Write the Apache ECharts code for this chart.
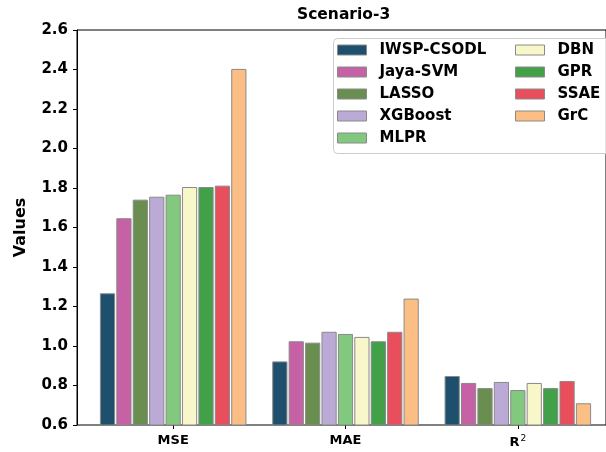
<!DOCTYPE html>
<html>
<head>
<meta charset="utf-8">
<script src="https://cdn.jsdelivr.net/npm/echarts@6/dist/echarts.min.js"></script>
<style>
  html, body { margin: 0; padding: 0; background: #fff; }
  #chart { width: 606px; height: 452px; }
</style>
</head>
<body>
<div id="chart"></div>
<script>
// Error metrics per method for Scenario-3
const categories = ['MSE', 'MAE', 'R²'];
const methods = ['IWSP-CSODL', 'Jaya-SVM', 'LASSO', 'XGBoost', 'MLPR', 'DBN', 'GPR', 'SSAE', 'GrC'];
const iwspCsodl = [1.267, 0.922, 0.848];
const jayaSvm   = [1.647, 1.024, 0.813];
const lasso     = [1.741, 1.017, 0.787];
const xgboost   = [1.756, 1.072, 0.818];
const mlpr      = [1.766, 1.061, 0.777];
const dbn       = [1.805, 1.046, 0.813];
const gpr       = [1.805, 1.024, 0.787];
const ssae      = [1.812, 1.072, 0.823];
const grc       = [2.403, 1.240, 0.710];
const yTicks = { min: 0.6, max: 2.6, step: 0.2 };

const seriesValues = [iwspCsodl, jayaSvm, lasso, xgboost, mlpr, dbn, gpr, ssae, grc];
const colors = ['#1e4f6c', '#c761a6', '#6a8e50', '#bcaad6', '#82c97f', '#f8f7ca', '#41a048', '#e84e5b', '#fbbe84'];

const FONT = 'DejaVu Sans';
const chart = echarts.init(document.getElementById('chart'), null, { renderer: 'canvas' });

const series = methods.map((name, i) => ({
  name: name,
  type: 'bar',
  xAxisIndex: 1,
  yAxisIndex: 1,
  data: seriesValues[i],
  barWidth: 15.2,
  barGap: '8%',
  itemStyle: { color: colors[i], borderColor: '#8a8a8a', borderWidth: 1 },
  emphasis: { disabled: true },
  animation: false
}));

const legendCommon = {
  orient: 'vertical',
  itemWidth: 29,
  itemHeight: 10,
  itemGap: 7,
  padding: 0,
  icon: 'rect',
  itemStyle: { borderColor: '#8a8a8a', borderWidth: 1 },
  textStyle: { fontFamily: FONT, fontWeight: 'bold', fontSize: 15, color: '#000', padding: [0, 0, 0, 8] },
  selectedMode: false
};

chart.setOption({
  animation: false,
  title: {
    text: 'Scenario-3',
    left: 297,
    top: 7,
    padding: 0,
    textStyle: { fontFamily: FONT, fontWeight: 'bold', fontSize: 15.5, color: '#000' }
  },
  graphic: [{
    type: 'rect',
    shape: { x: 333.5, y: 38.5, width: 290, height: 115, r: 4 },
    style: { fill: 'rgba(255,255,255,0.8)', stroke: '#cccccc', lineWidth: 1 },
    z: 50
  }],
  legend: [
    Object.assign({}, legendCommon, { data: methods.slice(0, 5), left: 337, top: 42.5, z: 60 }),
    Object.assign({}, legendCommon, { data: methods.slice(5), left: 515, top: 42.5, z: 60 })
  ],
  grid: [
    { left: 77, right: -10, top: 30, bottom: 27, show: true, borderColor: '#000', borderWidth: 1, backgroundColor: 'transparent' },
    { left: 87, right: 2, top: 30, bottom: 27 }
  ],
  xAxis: [
    { type: 'value', gridIndex: 0, min: 0, max: 1, show: false },
    {
      type: 'category',
      gridIndex: 1,
      data: categories,
      axisLine: { show: false },
      axisTick: { show: true, alignWithLabel: true, length: 4, lineStyle: { color: '#000' } },
      axisLabel: {
        margin: 9,
        fontFamily: FONT,
        fontWeight: 'bold',
        fontSize: 13,
        color: '#000',
        formatter: v => v === 'R²' ? '{b|R}{s|2}' : v,
        rich: {
          b: { fontFamily: FONT, fontWeight: 'bold', fontSize: 13, color: '#000' },
          s: { fontFamily: FONT, fontWeight: 'normal', fontSize: 9, color: '#000', padding: [0, 0, 8, 1] }
        }
      }
    }
  ],
  yAxis: [
    {
      type: 'value',
      gridIndex: 0,
      min: yTicks.min,
      max: yTicks.max,
      interval: yTicks.step,
      name: 'Values',
      nameLocation: 'middle',
      nameGap: 48,
      nameTextStyle: { fontFamily: FONT, fontWeight: 'bold', fontSize: 16, color: '#000' },
      axisLine: { show: true, lineStyle: { color: '#000' } },
      axisTick: { show: true, length: 4, lineStyle: { color: '#000' } },
      splitLine: { show: false },
      axisLabel: {
        margin: 9,
        fontFamily: FONT,
        fontWeight: 'bold',
        fontSize: 15,
        color: '#000',
        formatter: v => v.toFixed(1)
      }
    },
    { type: 'value', gridIndex: 1, min: yTicks.min, max: yTicks.max, interval: yTicks.step, show: false }
  ],
  series: series
});
</script>
</body>
</html>
